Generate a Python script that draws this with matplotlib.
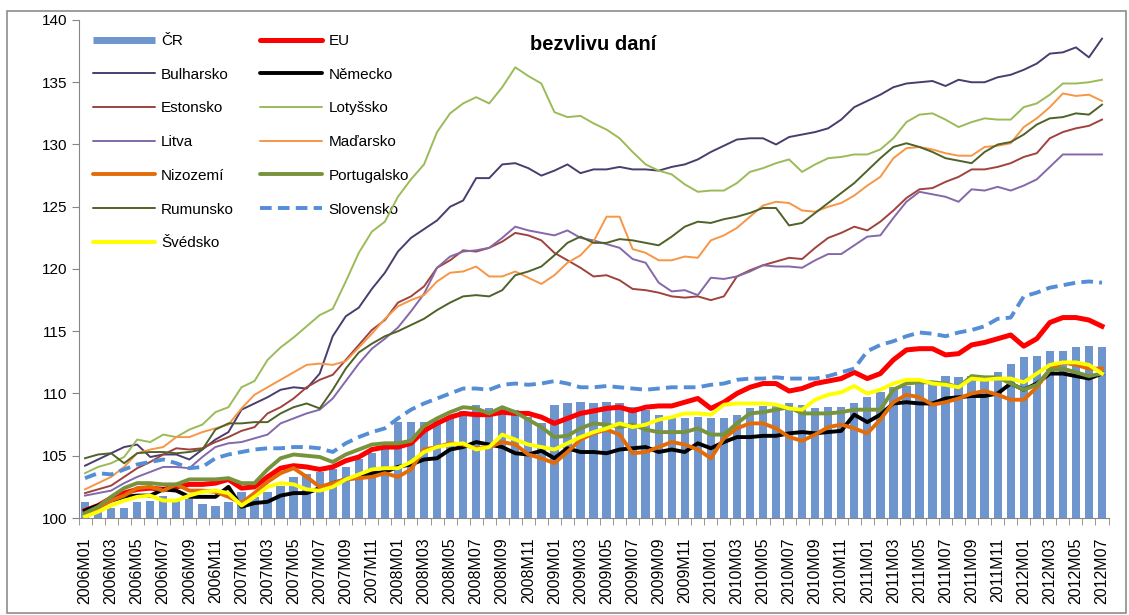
import numpy as np
import matplotlib
matplotlib.use("Agg")
from matplotlib import pyplot as plt
from matplotlib.lines import Line2D
from matplotlib.patches import Rectangle

plt.rcParams['font.family'] = ['Liberation Sans', 'DejaVu Sans']

years = ['2006', '2007', '2008', '2009', '2010', '2011', '2012']
months = [y + 'M%02d' % m for y in years for m in range(1, 13)][:79]

cr = [101.3, 101.0, 100.8, 100.8, 101.3, 101.4, 101.8, 101.5, 101.5, 101.1, 101.0, 101.3,
      102.1, 101.7, 102.1, 102.6, 103.3, 103.5, 103.7, 103.9, 104.1, 104.7, 105.2, 105.6,
      107.7, 107.7, 107.7, 107.9, 108.2, 108.6, 109.1, 108.8, 108.9, 108.7, 108.1, 107.6,
      109.1, 109.2, 109.3, 109.2, 109.3, 109.2, 108.9, 108.7, 108.3, 108.0, 108.0, 108.1,
      108.0, 108.0, 108.3, 108.8, 109.0, 109.0, 109.2, 109.1, 108.8, 108.9, 108.9, 109.2,
      109.7, 110.1, 110.5, 110.6, 110.8, 110.9, 111.4, 111.3, 111.4, 111.4, 111.7, 112.4,
      112.9, 113.0, 113.4, 113.4, 113.7, 113.8, 113.7]

eu = [100.6, 101.0, 101.6, 102.0, 102.3, 102.4, 102.3, 102.5, 102.7, 102.7, 102.8, 103.1,
      102.4, 102.5, 103.3, 104.0, 104.2, 104.1, 103.9, 104.1, 104.6, 104.9, 105.5, 105.7,
      105.7, 106.0, 107.0, 107.6, 108.1, 108.4, 108.3, 108.3, 108.5, 108.4, 108.4, 108.1,
      107.6, 108.0, 108.4, 108.6, 108.8, 108.9, 108.6, 108.9, 109.0, 109.0, 109.3, 109.6,
      108.8, 109.3, 110.0, 110.5, 110.8, 110.8, 110.2, 110.4, 110.8, 111.0, 111.2, 111.7,
      111.2, 111.6, 112.7, 113.5, 113.6, 113.6, 113.1, 113.2, 113.9, 114.1, 114.4, 114.7,
      113.8, 114.4, 115.7, 116.1, 116.1, 115.9, 115.4]

bulharsko = [104.2, 104.7, 105.2, 105.7, 105.9, 104.9, 105.1, 105.1, 104.7, 105.5, 106.3, 106.9,
             108.7, 109.2, 109.7, 110.3, 110.5, 110.4, 111.6, 114.6, 116.2, 116.9, 118.4, 119.7,
             121.4, 122.5, 123.2, 123.9, 125.0, 125.5, 127.3, 127.3, 128.4, 128.5, 128.1, 127.5,
             127.9, 128.4, 127.7, 128.0, 128.0, 128.2, 128.0, 128.0, 127.9, 128.2, 128.4, 128.8,
             129.4, 129.9, 130.4, 130.5, 130.5, 130.0, 130.6, 130.8, 131.0, 131.3, 132.0, 133.0,
             133.5, 134.0, 134.6, 134.9, 135.0, 135.1, 134.7, 135.2, 135.0, 135.0, 135.4, 135.6,
             136.0, 136.5, 137.3, 137.4, 137.8, 137.0, 138.5]

nemecko = [100.6, 101.0, 101.4, 101.7, 101.8, 101.8, 102.3, 102.2, 101.7, 101.7, 101.7, 102.5,
           100.9, 101.2, 101.3, 101.8, 102.0, 102.0, 102.4, 102.8, 103.1, 103.3, 103.6, 103.7,
           104.1, 104.3, 104.7, 104.8, 105.5, 105.7, 106.1, 105.9, 105.7, 105.2, 105.1, 105.4,
           104.8, 105.6, 105.3, 105.3, 105.2, 105.5, 105.6, 105.7, 105.3, 105.5, 105.3, 106.0,
           105.6, 106.1, 106.5, 106.5, 106.6, 106.6, 106.8, 106.9, 106.8, 106.9, 107.0, 108.3,
           107.7, 108.3, 109.2, 109.3, 109.2, 109.2, 109.6, 109.7, 109.8, 109.8, 110.0, 110.8,
           110.3, 110.8, 111.6, 111.6, 111.4, 111.2, 111.6]

estonsko = [102.0, 102.3, 102.6, 103.3, 104.0, 104.5, 105.1, 105.6, 105.5, 105.6, 106.1, 106.5,
            107.0, 107.3, 108.4, 108.9, 109.6, 110.5, 111.1, 111.5, 112.7, 113.9, 115.1, 115.9,
            117.3, 117.8, 118.6, 120.1, 120.7, 121.5, 121.4, 121.7, 122.2, 122.9, 122.7, 122.3,
            121.3, 120.7, 120.1, 119.4, 119.5, 119.1, 118.4, 118.3, 118.1, 117.8, 117.7, 117.8,
            117.5, 117.8, 119.4, 119.9, 120.3, 120.6, 120.9, 120.8, 121.7, 122.5, 122.9, 123.4,
            123.1, 123.8, 124.7, 125.7, 126.4, 126.5, 127.0, 127.4, 128.0, 128.0, 128.2, 128.5,
            129.0, 129.3, 130.5, 131.0, 131.3, 131.5, 132.0]

lotyssko = [103.6, 104.1, 104.4, 104.9, 106.3, 106.1, 106.7, 106.5, 107.1, 107.5, 108.5, 108.9,
            110.5, 111.0, 112.7, 113.7, 114.5, 115.4, 116.3, 116.8, 119.0, 121.3, 123.0, 123.8,
            125.8, 127.2, 128.4, 131.0, 132.5, 133.3, 133.8, 133.3, 134.6, 136.2, 135.5, 134.9,
            132.6, 132.2, 132.3, 131.7, 131.2, 130.5, 129.4, 128.4, 127.9, 127.6, 126.8, 126.2,
            126.3, 126.3, 126.9, 127.8, 128.1, 128.5, 128.8, 127.8, 128.4, 128.9, 129.0, 129.2,
            129.2, 129.6, 130.5, 131.8, 132.4, 132.5, 132.0, 131.4, 131.8, 132.1, 132.0, 132.0,
            133.0, 133.3, 134.0, 134.9, 134.9, 135.0, 135.2]

litva = [101.8, 102.0, 102.2, 102.8, 103.3, 103.7, 104.1, 104.1, 104.0, 104.9, 105.7, 106.0,
         106.1, 106.4, 106.7, 107.6, 108.0, 108.4, 108.7, 109.6, 111.0, 112.4, 113.6, 114.4,
         115.3, 116.6, 118.0, 120.1, 121.0, 121.4, 121.5, 121.7, 122.5, 123.4, 123.1, 122.9,
         122.7, 123.1, 122.5, 122.3, 122.0, 121.7, 120.8, 120.5, 118.9, 118.2, 118.3, 117.9,
         119.3, 119.2, 119.4, 119.8, 120.3, 120.2, 120.2, 120.1, 120.7, 121.2, 121.2, 121.9,
         122.6, 122.7, 124.1, 125.4, 126.2, 126.0, 125.8, 125.4, 126.4, 126.3, 126.6, 126.3,
         126.7, 127.2, 128.2, 129.2, 129.2, 129.2, 129.2]

madarsko = [102.3, 102.8, 103.3, 104.1, 105.2, 105.5, 105.7, 106.5, 106.5, 106.9, 107.2, 107.5,
            108.8, 109.9, 110.5, 111.1, 111.7, 112.3, 112.4, 112.3, 112.6, 113.7, 114.8, 116.0,
            117.0, 117.5, 117.9, 119.0, 119.7, 119.8, 120.2, 119.4, 119.4, 119.8, 119.3, 118.8,
            119.5, 120.5, 121.1, 122.2, 124.2, 124.2, 121.6, 121.3, 120.7, 120.7, 121.0, 120.9,
            122.3, 122.7, 123.3, 124.2, 125.1, 125.4, 125.3, 124.7, 124.6, 125.0, 125.3, 125.9,
            126.7, 127.4, 128.9, 129.7, 129.8, 129.6, 129.3, 129.1, 129.1, 129.8, 129.9, 130.1,
            131.4, 132.1, 133.0, 134.1, 133.9, 134.0, 133.5]

nizozemi = [100.2, 100.8, 101.4, 101.8, 102.4, 102.5, 102.2, 102.7, 102.2, 102.2, 102.1, 101.7,
            101.2, 102.0, 102.9, 103.6, 104.0, 103.3, 102.5, 102.8, 103.1, 103.2, 103.3, 103.6,
            103.3, 103.9, 105.5, 105.7, 106.0, 105.9, 105.6, 105.7, 106.1, 105.9, 105.1, 104.8,
            104.4, 105.3, 106.3, 106.8, 107.1, 106.7, 105.2, 105.3, 105.7, 106.1, 105.9, 105.5,
            104.8, 106.4, 107.2, 107.6, 107.6, 107.2, 106.5, 106.2, 106.7, 107.3, 107.5, 107.2,
            106.8, 107.9, 109.3, 109.9, 109.7, 109.1, 109.3, 109.6, 110.0, 110.2, 109.9, 109.5,
            109.5, 110.5, 111.9, 112.5, 112.3, 112.0, 112.0]

portugalsko = [100.4, 100.9, 101.7, 102.4, 102.8, 102.8, 102.7, 102.7, 103.1, 103.1, 103.1, 103.2,
               102.8, 102.8, 103.9, 104.8, 105.1, 105.0, 104.9, 104.5, 105.1, 105.5, 105.9, 106.0,
               106.0, 106.2, 107.4, 108.0, 108.5, 108.9, 108.8, 108.4, 108.9, 108.5, 107.9, 107.3,
               106.5, 106.6, 107.2, 107.6, 107.5, 107.3, 107.5, 107.1, 106.9, 106.9, 106.9, 107.2,
               106.7, 106.7, 107.6, 108.4, 108.5, 108.7, 108.9, 108.4, 108.4, 108.4, 108.5, 108.7,
               108.7, 108.7, 110.3, 110.8, 110.9, 110.9, 110.8, 110.5, 111.4, 111.3, 111.3, 110.8,
               110.3, 110.7, 111.9, 112.0, 111.7, 111.4, 111.6]

rumunsko = [104.8, 105.1, 105.2, 104.4, 105.2, 105.3, 105.3, 105.2, 105.3, 105.5, 107.1, 107.6,
            107.6, 107.7, 107.7, 108.4, 108.9, 109.2, 108.8, 110.3, 112.0, 113.3, 114.0, 114.6,
            115.0, 115.5, 116.0, 116.7, 117.3, 117.8, 117.9, 117.8, 118.3, 119.5, 119.8, 120.2,
            121.1, 122.1, 122.6, 122.1, 122.1, 122.4, 122.3, 122.1, 121.9, 122.6, 123.4, 123.8,
            123.7, 124.0, 124.2, 124.5, 124.9, 124.9, 123.5, 123.7, 124.5, 125.3, 126.1, 126.9,
            127.9, 128.9, 129.8, 130.1, 129.8, 129.4, 128.9, 128.7, 128.5, 129.4, 130.0, 130.2,
            130.8, 131.6, 132.1, 132.2, 132.5, 132.4, 133.2]

slovensko = [103.2, 103.6, 103.5, 103.9, 104.3, 104.5, 104.7, 104.4, 104.0, 104.1, 104.8, 105.1,
             105.3, 105.5, 105.6, 105.6, 105.7, 105.7, 105.6, 105.3, 106.0, 106.5, 106.9, 107.2,
             108.0, 108.7, 109.2, 109.6, 110.0, 110.4, 110.4, 110.3, 110.7, 110.8, 110.7, 110.8,
             111.0, 110.8, 110.5, 110.5, 110.6, 110.5, 110.4, 110.3, 110.4, 110.5, 110.5, 110.5,
             110.7, 110.8, 111.1, 111.2, 111.2, 111.3, 111.2, 111.2, 111.2, 111.4, 111.7, 112.0,
             113.4, 113.9, 114.2, 114.6, 114.9, 114.8, 114.6, 114.9, 115.1, 115.4, 116.0, 116.1,
             117.8, 118.1, 118.5, 118.7, 118.9, 119.0, 118.9]

svedsko = [100.1, 100.5, 101.0, 101.4, 101.7, 101.8, 101.4, 101.4, 101.8, 102.1, 102.2, 102.0,
           101.0, 101.7, 102.5, 102.8, 102.7, 102.3, 102.2, 102.5, 103.1, 103.5, 103.9, 104.0,
           104.0, 104.5, 105.3, 105.7, 105.9, 106.0, 105.5, 105.7, 106.7, 106.3, 105.9, 105.7,
           105.5, 106.0, 106.5, 106.9, 107.2, 107.6, 107.3, 107.5, 107.9, 108.1, 108.4, 108.4,
           108.3, 109.1, 109.2, 109.2, 109.2, 109.1, 108.8, 108.7, 109.5, 109.9, 110.1, 110.6,
           110.0, 110.3, 110.8, 111.1, 111.1, 110.8, 110.7, 110.5, 111.2, 111.1, 111.2, 111.2,
           110.9, 111.6, 112.3, 112.5, 112.5, 112.3, 111.6]

W, H = 1129, 615
fig = plt.figure(figsize=(W / 100, H / 100), dpi=100)
ax = fig.add_axes([78.5 / W, 1 - 518 / H, 1030 / W, 498 / H])

x = np.arange(len(months))
ax.bar(x, cr, width=0.64, color='#6E95CD', zorder=1)

# (label, data, colour, width, style) in the order the series are drawn
lines = [
    ('EU', eu, '#FF0000', 3.6, '-'),
    ('Bulharsko', bulharsko, '#4B3C6E', 1.4, '-'),
    ('Německo', nemecko, '#000000', 2.8, '-'),
    ('Estonsko', estonsko, '#A0433F', 1.4, '-'),
    ('Lotyšsko', lotyssko, '#9BBB59', 1.4, '-'),
    ('Litva', litva, '#8468AA', 1.4, '-'),
    ('Maďarsko', madarsko, '#F79646', 1.4, '-'),
    ('Nizozemí', nizozemi, '#E36C09', 2.8, '-'),
    ('Portugalsko', portugalsko, '#77933C', 2.8, '-'),
    ('Rumunsko', rumunsko, '#4F6228', 1.4, '-'),
    ('Slovensko', slovensko, '#558ED5', 2.8, (0, (3.0, 1.6))),
    ('Švédsko', svedsko, '#FFFF00', 2.8, '-'),
]
handles = {'ČR': Line2D([], [], color='#6E95CD', lw=5.0, solid_capstyle='butt')}
for k, (name, vals, col, lw, ls) in enumerate(lines):
    ax.plot(x, vals, color=col, lw=lw, ls=ls, zorder=2 + k, solid_joinstyle='round')
    handles[name] = Line2D([], [], color=col, lw=lw, ls=ls, solid_capstyle='round')

ax.set_xlim(-0.5, len(months) - 0.5)
ax.set_ylim(100, 140)
ax.set_yticks(np.arange(100, 141, 5))
ax.set_xticks(x[::2])
ax.set_xticklabels(months[::2], rotation=90, fontsize=11.5)
ax.set_xticks(np.arange(-0.5, len(months), 1), minor=True)
ax.tick_params(axis='x', which='major', length=0, pad=14)
ax.tick_params(axis='x', which='minor', length=5, color='#868686', direction='out')
ax.tick_params(axis='y', length=5, color='#868686', direction='out', labelsize=11, pad=3)
for s in ['top', 'right']:
    ax.spines[s].set_visible(False)
for s in ['left', 'bottom']:
    ax.spines[s].set_color('#868686')

order = ['ČR', 'Bulharsko', 'Estonsko', 'Litva', 'Nizozemí', 'Rumunsko', 'Švédsko',
         'EU', 'Německo', 'Lotyšsko', 'Maďarsko', 'Portugalsko', 'Slovensko']
ax.legend([handles[n] for n in order], order, ncol=2, loc='upper left',
          bbox_to_anchor=(93 / W, 1 - 34 / H), bbox_transform=fig.transFigure,
          frameon=False, borderpad=0, borderaxespad=0, handlelength=4.05,
          handletextpad=0.4, labelspacing=1.29, columnspacing=1.73, fontsize=11)

fig.text(593 / W, 1 - 45 / H, 'bezvlivu daní', fontsize=14.5, fontweight='bold',
         ha='center', va='center')

fig.patches.append(Rectangle((7 / W, 2 / H), 1119 / W, 602 / H, transform=fig.transFigure,
                             fill=False, edgecolor='#8C8C8C', lw=1.2))

fig.savefig('out.png', dpi=100)
